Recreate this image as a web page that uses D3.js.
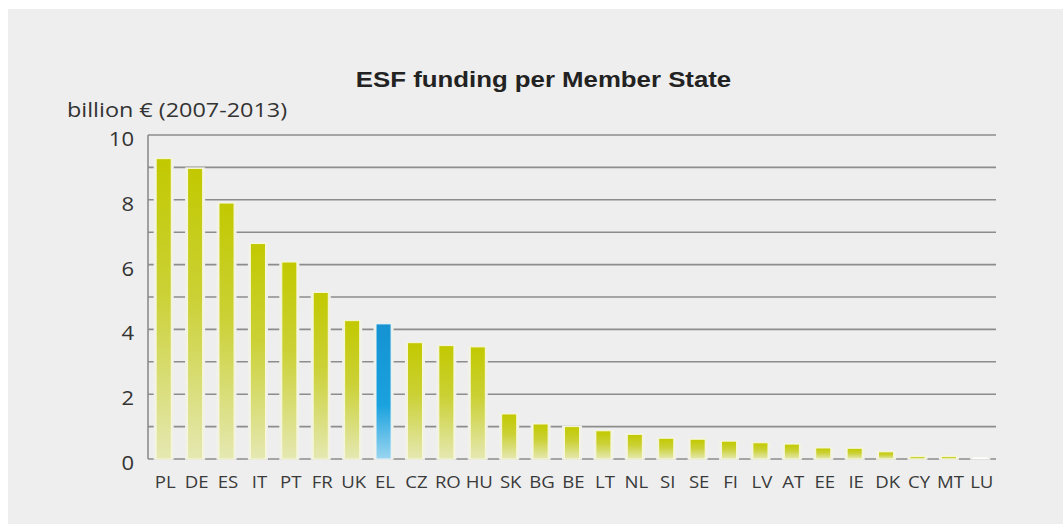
<!DOCTYPE html>
<html><head><meta charset="utf-8">
<script src="https://cdn.jsdelivr.net/npm/d3@7"></script>
<style>html,body{margin:0;padding:0;background:#fff;}svg{display:block;}</style>
</head><body>
<svg id="chart" width="1063" height="524"></svg>
<script>
const categories = ["PL","DE","ES","IT","PT","FR","UK","EL","CZ","RO","HU","SK","BG","BE","LT","NL","SI","SE","FI","LV","AT","EE","IE","DK","CY","MT","LU"];
const values = [9.27,8.97,7.9,6.65,6.08,5.14,4.27,4.17,3.59,3.5,3.46,1.39,1.08,1.0,0.87,0.76,0.64,0.61,0.55,0.5,0.46,0.34,0.33,0.22,0.08,0.08,0.02];
const highlight = ["EL"];
const yTicks = [0,2,4,6,8,10];
const gridValues = [0,1,2,3,4,5,6,7,8,9,10];
const title = "ESF funding per Member State";
const yLabel = "billion € (2007-2013)";

const svg = d3.select("#chart");
svg.append("rect").attr("x",8).attr("y",9).attr("width",1055).attr("height",515).attr("fill","#eeeeee");

const defs = svg.append("defs");
const g1 = defs.append("linearGradient").attr("id","gGreen").attr("x1",0).attr("y1",0).attr("x2",0).attr("y2",1);
g1.append("stop").attr("offset","0").attr("stop-color","#c2c900");
g1.append("stop").attr("offset","0.45").attr("stop-color","#cbd135");
g1.append("stop").attr("offset","1").attr("stop-color","#e5e8b2");
const g2 = defs.append("linearGradient").attr("id","gBlue").attr("x1",0).attr("y1",0).attr("x2",0).attr("y2",1);
g2.append("stop").attr("offset","0").attr("stop-color","#1592d2");
g2.append("stop").attr("offset","0.6").attr("stop-color","#1aa2de");
g2.append("stop").attr("offset","1").attr("stop-color","#9ad5f0");

const x = d3.scaleBand().domain(categories).range([148,996]).paddingInner(0.52).paddingOuter(0.26);
const y = d3.scaleLinear().domain([0,10]).range([459,135]);

// gridlines
svg.append("g").selectAll("line").data(gridValues).join("line")
  .attr("x1",148).attr("x2",996)
  .attr("y1",d=>y(d)).attr("y2",d=>y(d))
  .attr("stroke","#8c8c8c").attr("stroke-width",1.6);
// y axis line
svg.append("line").attr("x1",148).attr("x2",148).attr("y1",y(10)).attr("y2",y(0))
  .attr("stroke","#8c8c8c").attr("stroke-width",1.6);

const data = categories.map((c,i)=>({c, v: values[i]}));
// halos
svg.append("g").selectAll("rect").data(data).join("rect")
  .attr("x",d=>x(d.c)-2.5).attr("width",x.bandwidth()+5)
  .attr("y",d=>y(d.v)-1).attr("height",d=>y(0)-y(d.v)+1.8)
  .attr("fill","#f1f1ea");
svg.append("g").selectAll("rect").data(data).join("rect")
  .attr("x",d=>x(d.c)).attr("width",x.bandwidth())
  .attr("y",d=>Math.min(y(d.v), y(0)-1.5)).attr("height",d=>Math.max(1.5,y(0)-y(d.v)))
  .attr("fill",d=>highlight.includes(d.c)?"url(#gBlue)":(d.v<0.05?"#ffffff":"url(#gGreen)"))
  .attr("stroke",d=>highlight.includes(d.c)?"#e8f4fb":(d.v<0.05?"none":"#f7f8d8")).attr("stroke-width",1);

// y tick labels
svg.append("g").selectAll("text").data(yTicks).join("text")
  .attr("transform",d=>`translate(134,${y(d)+11}) scale(1.1,1)`)
  .attr("text-anchor","end")
  .attr("font-family","Open Sans, sans-serif").attr("font-size",20)
  .attr("fill","#333").text(d=>d);

// x labels
svg.append("g").selectAll("text").data(categories).join("text")
  .attr("transform",d=>`translate(${x(d)+x.bandwidth()/2+1.5},488) scale(1.2,1)`)
  .attr("text-anchor","middle")
  .attr("font-family","Open Sans, sans-serif").attr("font-size",15.5)
  .attr("fill","#3a3a3a").text(d=>d);

svg.append("text").attr("transform","translate(543.5,87) scale(1.2,1)").attr("text-anchor","middle")
  .attr("font-family","Liberation Sans, Arial, sans-serif").attr("font-weight","bold")
  .attr("font-size",21.5).attr("fill","#222").text(title);
svg.append("text").attr("transform","translate(67,117) scale(1.2,1)")
  .attr("font-family","Open Sans, sans-serif").attr("font-size",19.5)
  .attr("fill","#333").text(yLabel);
</script>
</body></html>
